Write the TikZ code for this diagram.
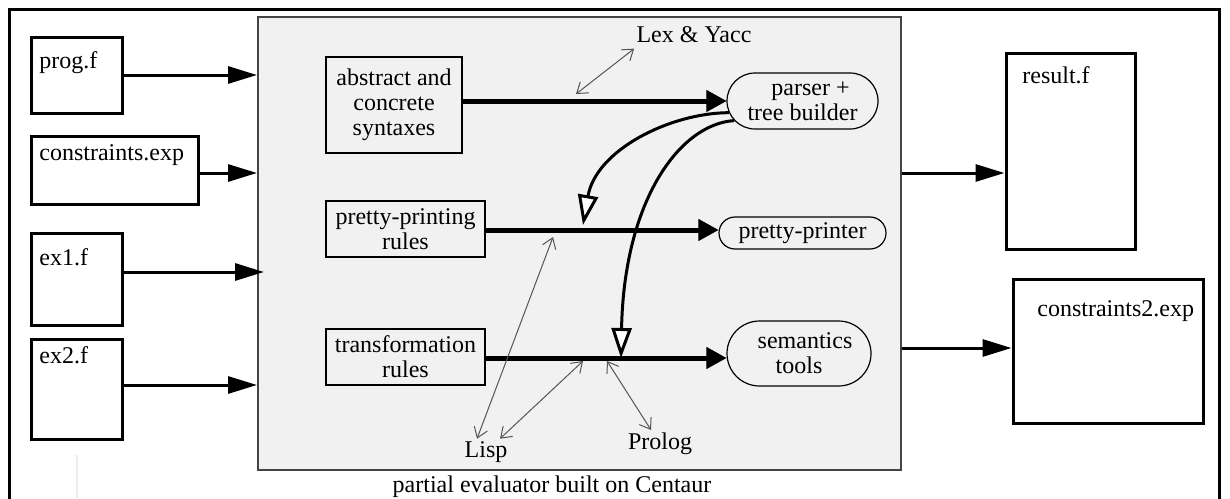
\documentclass[tikz,border=0pt]{standalone}
\usepackage{fontspec}
\setmainfont{Liberation Serif}
\usetikzlibrary{arrows.meta,shapes.misc}
\definecolor{pebg}{HTML}{F1F1F1}
\definecolor{pebd}{HTML}{444444}
\definecolor{linkgray}{HTML}{555555}
\begin{document}
\begin{tikzpicture}[x=0.5pt,y=-0.5pt,
  every node/.style={font=\fontsize{12}{12.5}\selectfont},
  filebox/.style={draw, line width=1.5pt, rectangle, inner sep=0pt},
  filename/.style={anchor=base west, inner sep=0pt},
  rulebox/.style={draw, line width=0.6pt, rectangle, inner sep=0pt, align=center},
  tool/.style={draw, line width=0.6pt, rounded rectangle, inner sep=0pt, align=center},
  feed/.style={line width=1.5pt, -{Triangle[length=14.5pt,width=8.5pt]}},
  mainflow/.style={line width=2.5pt, -{Triangle[length=10pt,width=11pt,line width=0.5pt]}},
  gen/.style={line width=1.5pt, -{Triangle[length=15pt,width=10pt,fill=white]}},
  link/.style={draw=linkgray, line width=0.5pt, {Straight Barb[length=5pt,width=7pt]}-{Straight Barb[length=5pt,width=7pt]}},
  plain/.style={anchor=base, inner sep=1pt}]
\useasboundingbox (0,0) rectangle (1230,498);
% outer frame
\draw[line width=1.5pt] (9,520) -- (9,9) -- (1219,9) -- (1219,520);
\draw[gray!15, line width=0.6pt] (77,455) -- (77,498);
% partial evaluator
\node[draw=pebd, fill=pebg, line width=1pt, minimum width=321.5pt, minimum height=226.5pt, inner sep=0pt] (pe) at (579.5,243.5) {};
\node[plain] (cap) at (552,492) {partial evaluator built on Centaur};
% input files
\node[filebox, minimum width=45.5pt, minimum height=38pt] (prog) at (76.5,75) {};
\node[filename] (progL) at (39,68) {prog.f};
\node[filebox, minimum width=83.5pt, minimum height=34pt] (cons) at (114.5,170) {};
\node[filename] (consL) at (39,160) {constraints.exp};
\node[filebox, minimum width=45.5pt, minimum height=46pt] (exa) at (76.5,279) {};
\node[filename] (exaL) at (39,265) {ex1.f};
\node[filebox, minimum width=45.5pt, minimum height=50pt] (exb) at (76.5,389) {};
\node[filename] (exbL) at (39,363) {ex2.f};
% output files
\node[filebox, minimum width=64.5pt, minimum height=98pt] (res) at (1070.5,151) {};
\node[filename] (resL) at (1022,83) {result.f};
\node[filebox, minimum width=95pt, minimum height=72pt] (consb) at (1108,351) {};
\node[filename] (consbL) at (1037,316) {constraints2.exp};
% inner boxes
\node[rulebox, minimum width=68pt, minimum height=48pt] (abs) at (394,105) {abstract and\\concrete\\syntaxes};
\node[rulebox, minimum width=79.5pt, minimum height=28pt] (prules) at (405.5,229) {pretty-printing\\rules};
\node[rulebox, minimum width=79.5pt, minimum height=28pt] (trules) at (405.5,357) {transformation\\rules};
\node[tool, minimum width=75.5pt, minimum height=28pt] (parser) at (802.5,101) {\hspace*{8pt}parser +\\tree builder};
\node[tool, minimum width=83.5pt, minimum height=16pt] (pp) at (802.5,233) {pretty-printer};
\node[tool, minimum width=72pt, minimum height=32.5pt] (sem) at (799,353.5) {\hspace*{6pt}semantics\\tools};
% labels
\node[plain] (lex) at (694,42) {Lex \& Yacc};
\node[plain] (lisp) at (486,457) {Lisp};
\node[plain] (prolog) at (660,449) {Prolog};
% input arrows
\draw[feed] (prog.east) -- (prog.east -| pe.west);
\draw[feed] ([yshift=-1.5pt]cons.east) -- ([yshift=-1.5pt]cons.east -| pe.west);
\draw[feed] ([yshift=3.5pt]exa.east) -- ([yshift=3.5pt,xshift=3.5pt]exa.east -| pe.west);
\draw[feed] ([yshift=2pt]exb.east) -- ([yshift=2pt]exb.east -| pe.west);
% output arrows
\draw[feed] ([yshift=-11pt]res.west -| pe.east) -- ([yshift=-11pt]res.west);
\draw[feed] ([yshift=1.5pt]consb.west -| pe.east) -- ([yshift=1.5pt]consb.west);
% main flows
\draw[mainflow] (abs.east |- parser.west) -- (parser.west);
\draw[mainflow] ([yshift=-0.5pt]prules.east) -- ([yshift=-0.5pt]prules.east -| pp.west);
\draw[mainflow] ([yshift=-0.5pt]trules.east) -- ([yshift=-0.5pt]trules.east -| sem.west);
% generated tools
\coordinate (ga) at (583,225);
\coordinate (gb) at (621,358);
\draw[gen] (parser.189) .. controls (670,113) and (596,150) .. (ga);
\draw[gen] (parser.196) .. controls (680,124) and (624,200) .. (gb);
% implementation links
\coordinate (lexa) at (576,94);
\coordinate (la) at (553,237);
\coordinate (lb) at (583,361);
\coordinate (pa) at (607,361);
\draw[link] (lexa) -- ([yshift=-2pt]lex.south west);
\draw[link] ([xshift=-4.5pt]lisp.north) -- (la);
\draw[link] ([xshift=7pt]lisp.north) -- (lb);
\draw[link] ([xshift=-4.5pt]prolog.north) -- (pa);
\end{tikzpicture}
\end{document}
